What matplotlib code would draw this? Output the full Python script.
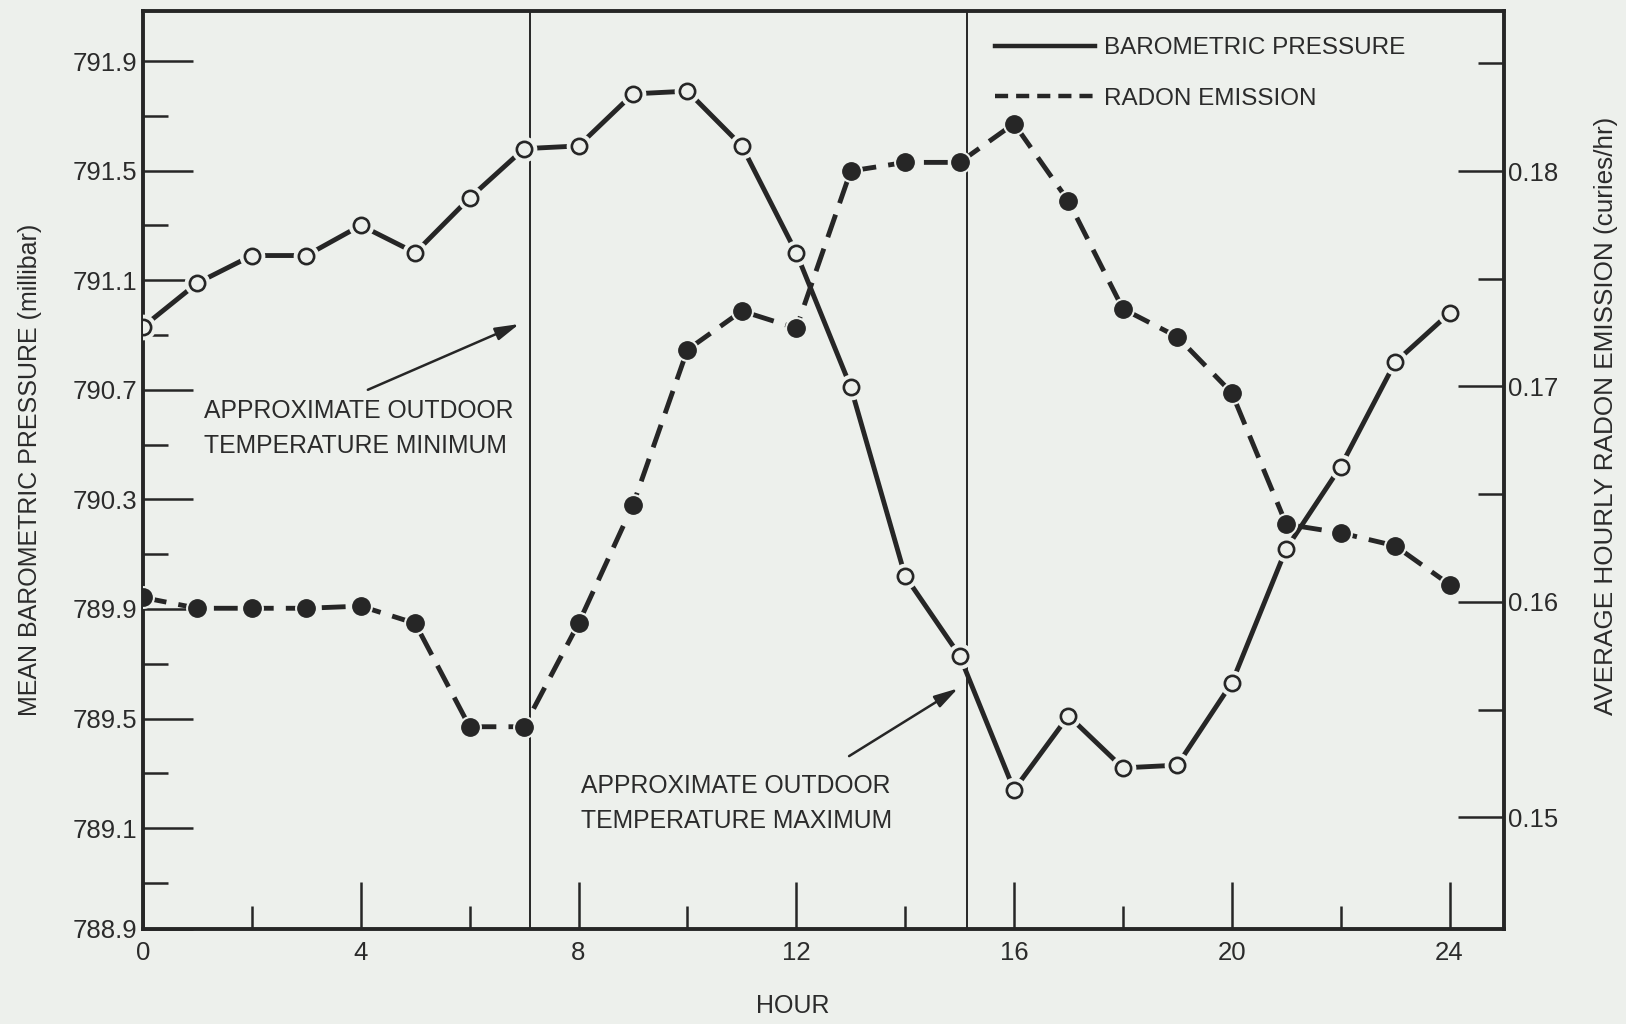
import matplotlib
matplotlib.use('Agg')
import matplotlib.pyplot as plt
from matplotlib.lines import Line2D
from matplotlib.ticker import FixedLocator, FixedFormatter

# ---------------- data ----------------
hours = list(range(25))
pressure = [790.93, 791.09, 791.19, 791.19, 791.30, 791.20, 791.40, 791.58,
            791.59, 791.78, 791.79, 791.59, 791.20, 790.71, 790.02, 789.73,
            789.24, 789.51, 789.32, 789.33, 789.63, 790.12, 790.42, 790.80,
            790.98]
radon = [0.1602, 0.1597, 0.1597, 0.1597, 0.1598, 0.1590, 0.1542, 0.1542,
         0.1590, 0.1645, 0.1717, 0.1735, 0.1727, 0.1800, 0.1804, 0.1804,
         0.1822, 0.1786, 0.1736, 0.1723, 0.1697, 0.1636, 0.1632, 0.1626,
         0.1608]

x_major = [0, 4, 8, 12, 16, 20, 24]
x_labels = ['0', '4', '8', '12', '16', '20', '24']
x_minor = [2, 6, 10, 14, 18, 22]

p_major = [791.9, 791.5, 791.1, 790.7, 790.3, 789.9, 789.5, 789.1]
p_minor = [791.7, 791.3, 790.9, 790.5, 790.1, 789.7, 789.3, 788.9]
p_labels = ['791.9', '791.5', '791.1', '790.7', '790.3', '789.9', '789.5',
            '789.1', '788.9']

r_major = [0.18, 0.17, 0.16, 0.15]
r_labels = ['0.18', '0.17', '0.16', '0.15']
r_minor = [0.185, 0.175, 0.165, 0.155]

temp_min_hour = 7.1
temp_max_hour = 15.14

legend_labels = ['BAROMETRIC PRESSURE', 'RADON EMISSION']
note_min = 'APPROXIMATE OUTDOOR\nTEMPERATURE MINIMUM'
note_max = 'APPROXIMATE OUTDOOR\nTEMPERATURE MAXIMUM'

# ---------------- style ----------------
plt.rcParams['font.family'] = ['Liberation Sans', 'DejaVu Sans']
BG = '#edf0ec'
INK = '#262626'
TXT = '#2b2b2b'

fig = plt.figure(figsize=(16.26, 10.24), dpi=100, facecolor=BG)
ax = fig.add_axes([143 / 1626, 1 - 929 / 1024, 1361 / 1626, 918 / 1024])
ax.set_facecolor(BG)
P_LIM = (788.732, 792.0825)
R_LIM = (0.14481, 0.187428)
ax.set_xlim(0, 25)
ax.set_ylim(*P_LIM)
ax2 = ax.twinx()
ax2.set_ylim(*R_LIM)

# vertical reference lines
ax.axvline(temp_min_hour, color=INK, lw=1.4, zorder=1)
ax.axvline(temp_max_hour, color=INK, lw=1.4, zorder=1)

# pressure (solid, open circles)
ax.plot(hours, pressure, color=INK, lw=3.5, solid_capstyle='butt', zorder=2)
ax.plot(hours, pressure, ls='none', marker='o', ms=18.5, mfc=BG, mec=BG,
        mew=0, zorder=3)
ax.plot(hours, pressure, ls='none', marker='o', ms=11, mfc=BG, mec=INK,
        mew=1.9, zorder=4)

# radon (dashed, filled circles)
ax2.plot(hours, radon, color=INK, lw=3.5, dashes=(4.9, 2.5),
         dash_capstyle='butt', zorder=2)
ax2.plot(hours, radon, ls='none', marker='o', ms=16.5, mfc=BG, mec=BG,
         mew=0, zorder=3)
ax2.plot(hours, radon, ls='none', marker='o', ms=12.5, mfc=INK, mec=INK,
         mew=1, zorder=4)

# ---------------- ticks ----------------
ax.xaxis.set_major_locator(FixedLocator(x_major))
ax.xaxis.set_major_formatter(FixedFormatter(x_labels))
ax.xaxis.set_minor_locator(FixedLocator(x_minor))
ax.tick_params(axis='x', which='major', direction='in', length=34, width=1.8,
               pad=9, labelsize=18.5, colors=INK, labelcolor=TXT, top=False)
ax.tick_params(axis='x', which='minor', direction='in', length=16.5,
               width=1.8, colors=INK, top=False)

ax.yaxis.set_major_locator(FixedLocator(p_major + [P_LIM[0]]))
ax.yaxis.set_major_formatter(FixedFormatter(p_labels))
ax.yaxis.set_minor_locator(FixedLocator(p_minor))
ax.tick_params(axis='y', which='major', direction='in', length=36, width=1.8,
               pad=4, labelsize=18.5, colors=INK, labelcolor=TXT)
ax.tick_params(axis='y', which='minor', direction='in', length=18, width=1.8,
               colors=INK)

ax2.yaxis.set_major_locator(FixedLocator(r_major))
ax2.yaxis.set_major_formatter(FixedFormatter(r_labels))
ax2.yaxis.set_minor_locator(FixedLocator(r_minor))
ax2.tick_params(axis='y', which='major', direction='in', length=33,
                width=1.8, pad=3, labelsize=18.5, colors=INK, labelcolor=TXT)
ax2.tick_params(axis='y', which='minor', direction='in', length=19,
                width=1.8, colors=INK)

for s in ['left', 'top', 'bottom']:
    ax.spines[s].set_linewidth(2.8)
    ax.spines[s].set_color(INK)
    ax2.spines[s].set_visible(False)
ax.spines['right'].set_visible(False)
ax2.spines['right'].set_linewidth(2.8)
ax2.spines['right'].set_color(INK)

# ---------------- labels ----------------
ax.set_xlabel('HOUR', fontsize=18, color=TXT)
ax.xaxis.label.set_va('center')
ax.xaxis.set_label_coords(0.4776, -0.0839)

ax.set_ylabel('MEAN BAROMETRIC PRESSURE (millibar)', fontsize=18, color=TXT)
ax.yaxis.label.set_va('center')
ax.yaxis.set_label_coords(-0.0829, 0.5)

ax2.set_ylabel('AVERAGE HOURLY RADON EMISSION (curies/hr)', fontsize=18.8,
               color=TXT, rotation=90)
ax2.yaxis.label.set_va('center')
ax2.yaxis.set_label_coords(1.075, 0.5593)

# ---------------- annotations ----------------
ax.text(1.12, 790.56, note_min, ha='left', va='center', fontsize=17.8,
        color=TXT, linespacing=1.57, zorder=5)
ax.text(8.04, 789.19, note_max, ha='left', va='center', fontsize=17.8,
        color=TXT, linespacing=1.57, zorder=5)
arrow = dict(arrowstyle='-|>,head_length=0.8,head_width=0.22', color=INK,
             lw=1.8, mutation_scale=18, shrinkA=0, shrinkB=0)
ax.annotate('', xy=(6.91, 790.94), xytext=(4.13, 790.70), arrowprops=arrow,
            zorder=5)
ax.annotate('', xy=(14.97, 789.61), xytext=(12.97, 789.363),
            arrowprops=arrow, zorder=5)

# ---------------- legend ----------------
h_solid = Line2D([], [], color=INK, lw=3.2)
h_dash = Line2D([], [], color=INK, lw=3.2, dashes=(2.95, 1.8),
                dash_capstyle='butt')
leg = ax2.legend([h_solid, h_dash], legend_labels, loc='upper left',
                 bbox_to_anchor=(0.626, 0.9715), frameon=False, fontsize=17.5,
                 handlelength=4.1, handletextpad=0.4, labelspacing=1.17,
                 borderpad=0, borderaxespad=0)
for t in leg.get_texts():
    t.set_color(TXT)

fig.savefig('out.png', dpi=100, facecolor=BG)
